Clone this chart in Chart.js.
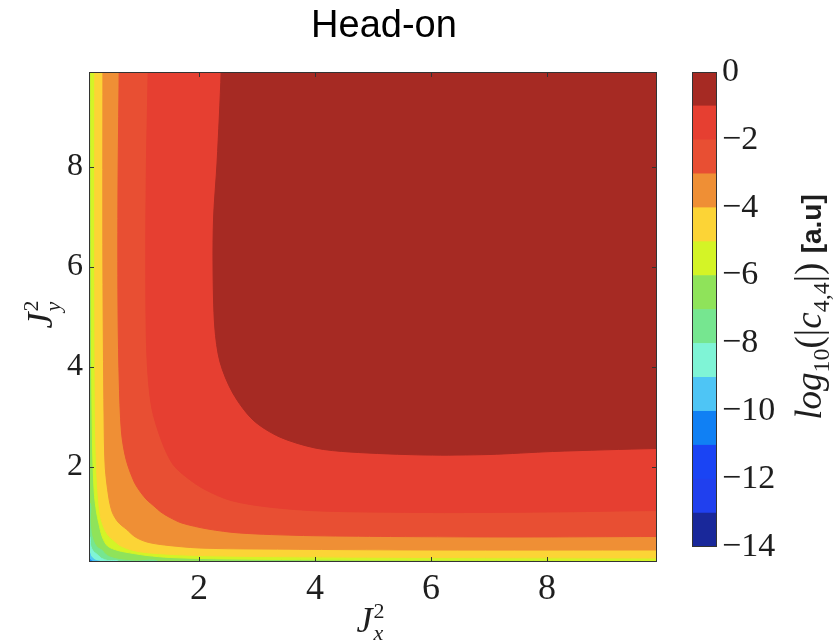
<!DOCTYPE html>
<html lang="en">
<head>
  <meta charset="UTF-8" />
  <title>Head-on</title>
  <script src="https://cdn.jsdelivr.net/npm/chart.js"></script>
  <style>
    html, body { margin: 0; padding: 0; background: #fff; }
    #wrap { position: relative; width: 834px; height: 640px; }
    #mainBox { position: absolute; left: 0; top: 0; width: 768px; height: 640px; }
    #barBox { position: absolute; left: 640px; top: 0; width: 194px; height: 640px; }
  </style>
</head>
<body>
  <div id="wrap">
    <div id="mainBox"><canvas id="mainChart"></canvas></div>
    <div id="barBox"><canvas id="barChart"></canvas></div>
  </div>

  <script>
    // axis range of J_x^2 / J_y^2
    const xMin = 0.1, xMax = 9.9, yMin = 0.1, yMax = 9.9;
    const xTicks = [2, 4, 6, 8];
    const yTicks = [2, 4, 6, 8];

    // log10(|c44|) colour levels, band i runs from levels[i] to levels[i+1]
    const levels = [-14, -13, -12, -11, -10, -9, -8, -7, -6, -5, -4, -3, -2, -1, 0];
    const bandColors = [
      '#19289a', '#2040ee', '#1a44f4', '#1080f4', '#4ec5f5', '#7ff4d6', '#76e690',
      '#8fe35a', '#d4f426', '#fcd436', '#ef8f35', '#e84f33', '#e63f31', '#a62a23'
    ];
    const colorbarTicks = [-14, -12, -10, -8, -6, -4, -2, 0];

    // contour lines, [Jx^2, Jy^2]
    // these run from the top edge to the right edge
    const contourM1 = [[2.38, 9.9], [2.31, 8.1], [2.25, 7.0], [2.24, 6.0], [2.27, 4.8], [2.36, 4.1], [2.58, 3.48],
      [2.93, 2.94], [3.39, 2.6], [4.0, 2.38], [4.6, 2.3], [5.9, 2.24], [7.0, 2.25], [8.1, 2.31], [9.9, 2.37]];
    const contourM2 = [[1.12, 9.9], [1.09, 8.0], [1.08, 6.0], [1.1, 4.2], [1.18, 3.2], [1.36, 2.5], [1.55, 2.05],
      [1.8, 1.78], [2.1, 1.55], [2.55, 1.33], [3.2, 1.2], [4.1, 1.12], [6.0, 1.09], [8.0, 1.1], [9.9, 1.13]];
    const contourM3 = [[0.62, 9.9], [0.6, 7.5], [0.6, 5.3], [0.62, 3.8], [0.66, 2.7], [0.74, 2.15], [0.88, 1.7],
      [1.0, 1.48], [1.1, 1.34], [1.22, 1.22], [1.34, 1.1], [1.48, 1.0], [1.7, 0.88], [2.15, 0.76], [2.7, 0.68],
      [3.8, 0.63], [5.3, 0.61], [7.5, 0.6], [9.9, 0.61]];
    const contourM4 = [[0.34, 9.9], [0.34, 6.0], [0.36, 3.0], [0.38, 2.0], [0.44, 1.4], [0.5, 1.1], [0.6, 0.9],
      [0.75, 0.75], [0.9, 0.6], [1.1, 0.5], [1.4, 0.44], [2.0, 0.38], [3.0, 0.36], [6.0, 0.34], [9.9, 0.34]];
    const contourM5 = [[0.2, 9.9], [0.2, 6.0], [0.21, 3.0], [0.23, 2.0], [0.26, 1.4], [0.3, 1.0], [0.36, 0.78],
      [0.44, 0.62], [0.53, 0.53], [0.62, 0.44], [0.78, 0.36], [1.0, 0.3], [1.4, 0.26], [2.0, 0.23], [3.0, 0.21],
      [6.0, 0.19], [9.9, 0.18]];
    const contourM6 = [[0.13, 9.9], [0.14, 5.0], [0.16, 2.5], [0.19, 1.5], [0.23, 1.1], [0.27, 0.87], [0.33, 0.6],
      [0.42, 0.42], [0.6, 0.33], [0.87, 0.27], [1.1, 0.23], [1.5, 0.19], [2.5, 0.16], [5.0, 0.14], [9.9, 0.13]];
    // these run from the left edge to the bottom edge
    const contourM7 = [[0.1, 1.3], [0.12, 0.9], [0.15, 0.62], [0.2, 0.46], [0.26, 0.38], [0.33, 0.33], [0.38, 0.26],
      [0.46, 0.2], [0.62, 0.15], [0.9, 0.12], [1.3, 0.1]];
    const contourM8 = [[0.1, 0.62], [0.13, 0.42], [0.17, 0.32], [0.22, 0.27], [0.27, 0.22], [0.32, 0.17],
      [0.42, 0.13], [0.62, 0.1]];
    const contourM9 = [[0.1, 0.3], [0.13, 0.22], [0.17, 0.17], [0.22, 0.13], [0.3, 0.1]];
    const contourM10 = [[0.1, 0.17], [0.13, 0.13], [0.17, 0.1]];

    const upperContours = [[-1, contourM1], [-2, contourM2], [-3, contourM3], [-4, contourM4], [-5, contourM5], [-6, contourM6]];
    const lowerContours = [[-10, contourM10], [-9, contourM9], [-8, contourM8], [-7, contourM7]];

    const serif = '"Liberation Serif", "Times New Roman", serif';
    const ink = '#1e1e1e';
    const pad = 0.6; // closing points sit outside the plot, so they get clipped

    // each filled region is a closed shape: contour + the plot corner it wraps
    const datasets = [];
    upperContours.forEach(([lev, pts]) => {
      const c = bandColors[levels.indexOf(lev)];
      const first = pts[0], last = pts[pts.length - 1];
      const path = [[first[0], yMax + pad], ...pts, [xMax + pad, last[1]], [xMax + pad, yMax + pad]];
      datasets.push({
        data: path.map(([x, y]) => ({x, y})),
        backgroundColor: c, borderColor: c, borderWidth: 1, fill: 'shape', pointRadius: 0
      });
    });
    lowerContours.forEach(([lev, pts]) => {
      const c = bandColors[levels.indexOf(lev) - 1];
      const first = pts[0], last = pts[pts.length - 1];
      const path = [[xMin - pad, first[1]], ...pts, [last[0], yMin - pad], [xMin - pad, yMin - pad]];
      datasets.push({
        data: path.map(([x, y]) => ({x, y})),
        backgroundColor: c, borderColor: c, borderWidth: 1, fill: 'shape', pointRadius: 0
      });
    });

    const frame = {
      id: 'frame',
      beforeDatasetsDraw(chart, args, opts) {
        if (!opts.fill) return;
        const {ctx, chartArea: a} = chart;
        ctx.save();
        ctx.fillStyle = opts.fill;
        ctx.fillRect(a.left, a.top, a.width, a.height);
        ctx.restore();
      },
      afterDatasetsDraw(chart, args, opts) {
        const {ctx, chartArea: a} = chart;
        ctx.save();
        ctx.strokeStyle = '#333';
        ctx.lineWidth = 1;
        if (opts.ticks) {
          const len = 5;
          ctx.beginPath();
          chart.scales.x.ticks.forEach(t => {
            const px = Math.round(chart.scales.x.getPixelForValue(t.value)) + 0.5;
            ctx.moveTo(px, a.bottom); ctx.lineTo(px, a.bottom - len);
            ctx.moveTo(px, a.top); ctx.lineTo(px, a.top + len);
          });
          chart.scales.y.ticks.forEach(t => {
            const py = Math.round(chart.scales.y.getPixelForValue(t.value)) + 0.5;
            ctx.moveTo(a.left, py); ctx.lineTo(a.left + len, py);
            ctx.moveTo(a.right, py); ctx.lineTo(a.right - len, py);
          });
          ctx.stroke();
        }
        ctx.strokeRect(Math.round(a.left) + 0.5, Math.round(a.top) + 0.5, Math.round(a.width) - 1, Math.round(a.height) - 1);
        ctx.restore();
      }
    };

    // J^2 with stacked super/subscript
    function drawJ(ctx, cx, cy, rot, sub) {
      ctx.save();
      ctx.translate(cx, cy);
      ctx.rotate(rot);
      ctx.fillStyle = ink;
      ctx.textBaseline = 'alphabetic';
      ctx.font = 'italic 36px ' + serif;
      const wJ = ctx.measureText('J').width;
      ctx.font = '22px ' + serif;
      const w2 = ctx.measureText('2').width;
      ctx.font = 'italic 22px ' + serif;
      const ws = ctx.measureText(sub).width;
      let x = -(wJ + Math.max(w2, ws)) / 2;
      ctx.font = 'italic 36px ' + serif;
      ctx.fillText('J', x, 0);
      x += wJ + 1;
      ctx.font = '22px ' + serif;
      ctx.fillText('2', x, -14);
      ctx.font = 'italic 22px ' + serif;
      ctx.fillText(sub, x, 8);
      ctx.restore();
    }

    const axisLabels = {
      id: 'axisLabels',
      afterDraw(chart) {
        const {ctx, chartArea: a} = chart;
        drawJ(ctx, (a.left + a.right) / 2 - 3, 632, 0, 'x');
        drawJ(ctx, 52, (a.top + a.bottom) / 2 - 2, -Math.PI / 2, 'y');
      }
    };

    new Chart(document.getElementById('mainChart'), {
      type: 'line',
      data: { datasets },
      options: {
        responsive: true,
        maintainAspectRatio: false,
        animation: false,
        layout: { padding: 0 },
        elements: { line: { tension: 0.3, capBezierPoints: false } },
        plugins: {
          legend: { display: false },
          tooltip: { enabled: false },
          title: {
            display: true,
            text: 'Head-on',
            color: '#000',
            font: { family: '"Liberation Sans", Arial, sans-serif', size: 38, weight: 'normal', lineHeight: 1.2 },
            padding: { top: 4, bottom: 22.4 }
          },
          frame: { fill: bandColors[levels.indexOf(-7)], ticks: true }
        },
        scales: {
          x: {
            type: 'linear', min: xMin, max: xMax,
            afterBuildTicks: s => { s.ticks = xTicks.map(v => ({value: v})); },
            afterFit: s => { s.height = 78; },
            grid: { display: false, drawTicks: false },
            border: { display: false },
            ticks: { color: ink, padding: 6, font: { family: serif, size: 36 } }
          },
          y: {
            type: 'linear', min: yMin, max: yMax,
            afterBuildTicks: s => { s.ticks = yTicks.map(v => ({value: v})); },
            afterFit: s => { s.width = 89; },
            grid: { display: false, drawTicks: false },
            border: { display: false },
            ticks: { color: ink, padding: 6, font: { family: serif, size: 32 } }
          },
          spacer: {
            type: 'linear', position: 'right', display: true,
            afterFit: s => { s.width = 768 - 657; },
            grid: { display: false, drawTicks: false },
            border: { display: false },
            ticks: { display: false }
          }
        }
      },
      plugins: [frame, axisLabels]
    });

    // colour bar
    const cbTitle = {
      id: 'cbTitle',
      afterDraw(chart) {
        const {ctx} = chart;
        const big = '37px ' + serif, bigI = 'italic 37px ' + serif;
        const small = '24px ' + serif;
        const parts = [
          ['log', bigI, 0], ['10', small, 8], ['(|', big, 0], ['c', bigI, 0], ['4,4', small, 8], ['|)', big, 0],
          [' ', big, 0], ['[a.u]', 'bold 28px "Liberation Sans", Arial, sans-serif', 0]
        ];
        ctx.save();
        let total = 0;
        parts.forEach(p => { ctx.font = p[1]; total += ctx.measureText(p[0]).width; });
        ctx.translate(181, 307);
        ctx.rotate(-Math.PI / 2);
        ctx.fillStyle = ink;
        ctx.textBaseline = 'alphabetic';
        let x = -total / 2;
        parts.forEach(p => {
          ctx.font = p[1];
          ctx.fillText(p[0], x, p[2]);
          x += ctx.measureText(p[0]).width;
        });
        ctx.restore();
      }
    };

    new Chart(document.getElementById('barChart'), {
      type: 'bar',
      data: {
        labels: [''],
        datasets: bandColors.map((c, i) => ({
          data: [[levels[i], levels[i + 1]]],
          backgroundColor: c,
          borderWidth: 0,
          barPercentage: 1,
          categoryPercentage: 1
        }))
      },
      options: {
        responsive: true,
        maintainAspectRatio: false,
        animation: false,
        layout: { padding: { left: 52, top: 72, bottom: 93, right: 0 } },
        plugins: { legend: { display: false }, tooltip: { enabled: false }, frame: { ticks: false } },
        scales: {
          x: { stacked: true, display: false },
          y: {
            position: 'right', min: -14, max: 0,
            afterBuildTicks: s => { s.ticks = colorbarTicks.map(v => ({value: v})); },
            afterFit: s => { s.width = 194 - 77; },
            grid: { display: false, drawTicks: false },
            border: { display: false },
            ticks: {
              color: ink, padding: 5, font: { family: serif, size: 34 },
              callback: v => (v < 0 ? '\u2212' + Math.abs(v) : String(v))
            }
          }
        }
      },
      plugins: [frame, cbTitle]
    });
  </script>
</body>
</html>
